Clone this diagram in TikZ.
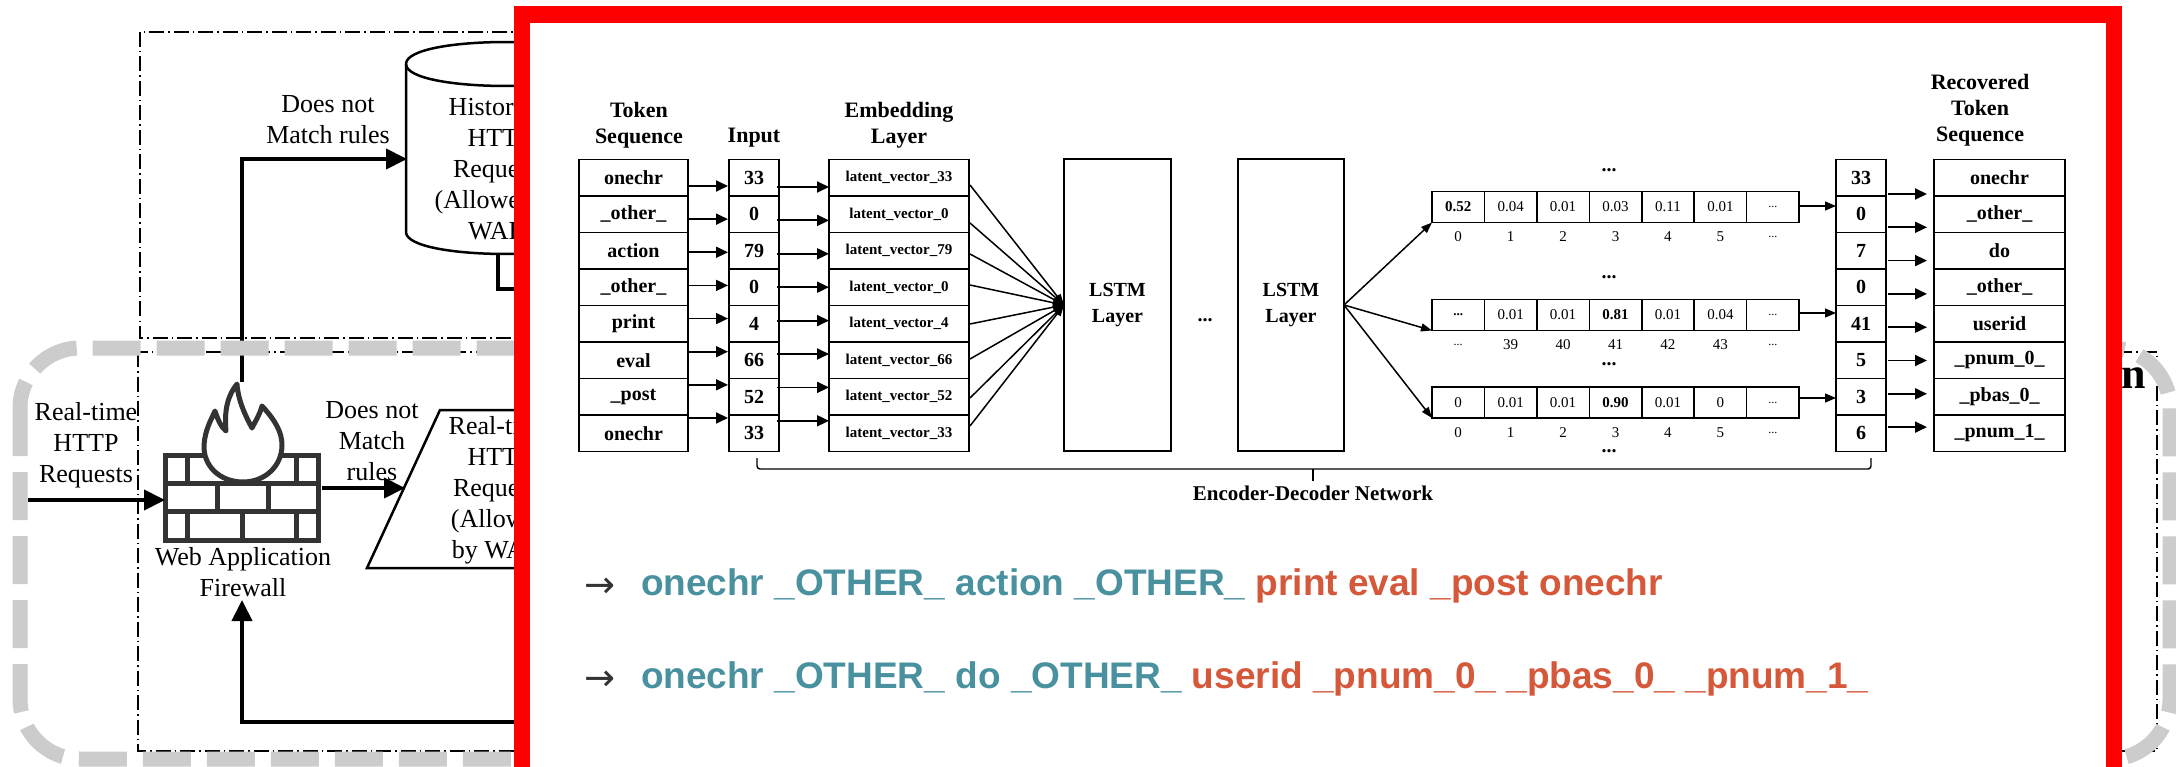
\documentclass[tikz,border=0pt]{standalone}
\usepackage{fontspec}
\setmainfont{Liberation Serif}
\newfontfamily\sansb{Liberation Sans}
\newfontfamily\djv{DejaVu Sans}
\usetikzlibrary{arrows.meta,calc}
\definecolor{tealc}{RGB}{74,145,160}
\definecolor{orangec}{RGB}{213,88,58}
\definecolor{fwgray}{RGB}{51,51,51}
\definecolor{dashgray}{RGB}{204,204,204}
\definecolor{redframe}{RGB}{255,0,0}
\newcommand\smdots{{\fontsize{12}{14}\selectfont.{}.{}.}}
\newcommand\bdots{{\fontsize{13}{14}\selectfont\bfseries.{}.{}.}}
\begin{document}
\begin{tikzpicture}[x=1pt,y=-1pt,
  every node/.style={inner sep=0pt, outer sep=0pt},
  hdr/.style={font=\fontsize{22}{26}\selectfont\bfseries, align=center},
  lbl/.style={font=\fontsize{26}{31}\selectfont, align=center},
  cellb/.style={draw, line width=1.6pt, minimum height=36.5pt, font=\fontsize{20}{24}\selectfont\bfseries},
  pcell/.style={draw, line width=1.6pt, minimum width=52.43pt, minimum height=31pt, font=\fontsize{15}{18}\selectfont},
  plab/.style={font=\fontsize{15}{18}\selectfont},
  bigarr/.style={line width=4pt, -{Triangle[length=21pt,width=20pt]}},
  bigline/.style={line width=4pt},
  sarr/.style={line width=1.8pt, -{Triangle[length=12pt,width=11pt]}},
  farr/.style={line width=1.5pt, -{Triangle[length=11pt,width=8pt]}},
  tarr/.style={line width=1.2pt, -{Triangle[length=11pt,width=9pt]}},
  dashdot/.style={line width=1.3pt, dash pattern=on 15pt off 4pt on 1.5pt off 4pt},
  graydash/.style={dashgray, line width=15pt, dash pattern=on 48pt off 16pt, rounded corners=60pt},
  wall/.style={fwgray, line width=5pt},
  dots/.style={font=\fontsize{20}{24}\selectfont\bfseries},
  botline/.style={anchor=base west, font=\sansb\bfseries\fontsize{37}{44}\selectfont, text=tealc},
  bullet/.style={anchor=base west, font=\djv\fontsize{37}{44}\selectfont, text=fwgray}
]
\useasboundingbox (0,0) rectangle (2176,767);
\fill[white] (0,0) rectangle (2176,767);

% ---------------- background diagram ----------------
\draw[dashdot] (140,32) rectangle (2100,338);
\draw[dashdot] (138,352) rectangle (2157,751);

% cylinder
\draw[line width=2.5pt, fill=white] (406,64) -- (406,232) .. controls (406,261.3) and (604,261.3) .. (604,232) -- (604,64) .. controls (604,34.7) and (406,34.7) .. (406,64) -- cycle;
\draw[line width=2.5pt] (406,64) .. controls (406,93.3) and (604,93.3) .. (604,64);
\node[lbl] (cyltxt) at (500,171) {Historical\\HTTP\\Requests\hspace*{48pt}\\(Allowed by\\WAF)};

% parallelogram
\draw[line width=2.5pt, fill=white] (440,410) -- (700,410) -- (627,568) -- (367,568) -- cycle;
\node[lbl] (partxt) at (500,490) {Real-time\\HTTP\\Requests\\(Allowed\\by WAF)};

% firewall icon
\node (fw) at (241.5,497.5) [minimum width=153pt, minimum height=85pt] {};
\draw[wall, fill=white] (165,455) rectangle (318,540);
\draw[wall] (165,483.3) -- (318,483.3) (165,511.7) -- (318,511.7);
\draw[wall] (187,455) -- (187,483.3) (296,455) -- (296,483.3);
\draw[wall] (217,483.3) -- (217,511.7) (268,483.3) -- (268,511.7);
\draw[wall] (187,511.7) -- (187,540) (242,511.7) -- (242,540) (296,511.7) -- (296,540);
\draw[wall, fill=white, line join=round] (243,482) .. controls (220,482) and (203,466) .. (204,445)
  .. controls (205,430) and (211,420) .. (215,411)
  .. controls (218,420) and (221,427) .. (226,431)
  .. controls (224,410) and (228,395) .. (237,384)
  .. controls (238,400) and (245,415) .. (252,428)
  .. controls (256,420) and (260,414) .. (262,406)
  .. controls (275,420) and (282,432) .. (282,445)
  .. controls (282,466) and (265,482) .. (243,482) -- cycle;

\node[lbl] (rtlbl) at (86,445) {Real-time\\HTTP\\Requests};
\node[lbl] (dn1) at (328,120) {Does not\\Match rules};
\node[lbl] (dn2) at (372,441) {Does not\\Match\\rules};
\node[lbl] (fwlbl) at (243,572) {Web Application\\Firewall};

\coordinate (inS) at (28,500);
\coordinate (fwTop) at (242,382);
\coordinate (cylIn) at (407,159);
\coordinate (parIn) at (405,488);
\coordinate (fbS) at (560,722);
\coordinate (fbE) at (242,600);
\coordinate (cylOut) at (498,254);
\coordinate (cylEnd) at (560,289);
\draw[bigarr] (inS) -- (inS -| fw.west);
\draw[bigarr] (fwTop) |- (cylIn);
\draw[bigarr] (fw.east |- parIn) ++(4,0) -- (parIn);
\draw[bigarr] (fbS) -| (fbE);
\draw[bigline] (cylOut) |- (cylEnd);

\node[anchor=base east, font=\fontsize{44}{50}\selectfont\bfseries] (ttl) at (2146,388) {on};

\draw[graydash] (20,348) rectangle (2170,759);

% ---------------- red frame ----------------
\fill[white] (522,14.5) rectangle (2114,800);
\draw[redframe, line width=16.5pt] (522,800) -- (522,14.5) -- (2114,14.5) -- (2114,800);

% ---------------- network diagram ----------------
\node[hdr] (htok) at (639,125) {Token\\Sequence};
\node[hdr] (hinp) at (754,138) {Input};
\node[hdr] (hemb) at (899,125) {Embedding\\Layer};
\node[hdr] (hrec) at (1980,110) {Recovered\\Token\\Sequence};

\foreach \t/\n/\e [count=\i] in {onechr/33/latent\_vector\_33, \_other\_/0/latent\_vector\_0, action/79/latent\_vector\_79, \_other\_/0/latent\_vector\_0, print/4/latent\_vector\_4, eval/66/latent\_vector\_66, \_post/52/latent\_vector\_52, onechr/33/latent\_vector\_33}{
  \pgfmathsetmacro\yc{159.5+36.5*(\i-0.5)}
  \node[cellb, minimum width=109pt] (tok\i) at (633.5,\yc) {\t};
  \node[cellb, minimum width=50pt] (inp\i) at (754,\yc) {\n};
  \node[cellb, minimum width=140pt, font=\fontsize{15}{18}\selectfont\bfseries] (emb\i) at (899,\yc) {\e};
}
\foreach \n/\w [count=\i] in {33/onechr, 0/\_other\_, 7/do, 0/\_other\_, 41/userid, 5/\_pnum\_0\_, 3/\_pbas\_0\_, 6/\_pnum\_1\_}{
  \pgfmathsetmacro\yc{159.5+36.5*(\i-0.5)}
  \node[cellb, minimum width=50pt] (out\i) at (1861,\yc) {\n};
  \node[cellb, minimum width=131pt] (rec\i) at (1999.5,\yc) {\w};
}
\foreach \i in {1,...,8}{
  \pgfmathsetmacro\yc{159.5+36.5*(\i-0.5)}
  \pgfmathsetmacro\da{186+33.14*(\i-1)-\yc}
  \pgfmathsetmacro\db{187+33.4*(\i-1)-\yc}
  \pgfmathsetmacro\dc{194+33.3*(\i-1)-\yc}
  \draw[sarr] ($(tok\i.east)+(0,\da)$) -- ($(inp\i.west)+(-1,\da)$);
  \draw[sarr] ($(inp\i.east)+(-2,\db)$) -- ($(emb\i.west)+(0,\db)$);
  \draw[sarr] ($(out\i.east)+(2,\dc)$) -- ($(rec\i.west)+(-7,\dc)$);
}

% LSTM layers
\node[draw, line width=1.6pt, minimum width=107pt, minimum height=292pt, font=\fontsize{20}{26}\selectfont\bfseries, align=center] (lstm1) at (1117.5,305) {LSTM\\Layer};
\node[draw, line width=1.6pt, minimum width=106pt, minimum height=292pt, font=\fontsize{20}{26}\selectfont\bfseries, align=center] (lstm2) at (1291,305) {LSTM\\Layer};
\node[dots] (ldots) at (1205,320) {...};

\foreach \i/\d in {1/7.25, 2/8.75, 3/3.25, 4/-2.25, 5/0.25, 6/-1.25, 7/1.25, 8/-7.25}{
  \draw[farr] ($(emb\i.east)+(1,\d)$) -- (lstm1.west);
}

% probability rows
\foreach \v [count=\j] in {\textbf{0.52},0.04,0.01,0.03,0.11,0.01,\smdots}{
  \node[pcell] (pa\j) at ({1432+52.43*(\j-0.5)},207) {\v};
}
\foreach \v [count=\j] in {\bdots,0.01,0.01,\textbf{0.81},0.01,0.04,\smdots}{
  \node[pcell] (pb\j) at ({1432+52.43*(\j-0.5)},315) {\v};
}
\foreach \v [count=\j] in {0,0.01,0.01,\textbf{0.90},0.01,0,\smdots}{
  \node[pcell] (pc\j) at ({1432+52.43*(\j-0.5)},402.5) {\v};
}
\foreach \l [count=\j] in {0,1,2,3,4,5,\smdots}{
  \node[plab] (la\j) at ({1432+52.43*(\j-0.5)},237) {\l};
}
\foreach \l [count=\j] in {\smdots,39,40,41,42,43,\smdots}{
  \node[plab] (lb\j) at ({1432+52.43*(\j-0.5)},345) {\l};
}
\foreach \l [count=\j] in {0,1,2,3,4,5,\smdots}{
  \node[plab] (lc\j) at ({1432+52.43*(\j-0.5)},433) {\l};
}
\node[dots] (d1) at (1609,170) {...};
\node[dots] (d2) at (1609,277) {...};
\node[dots] (d3) at (1609,364) {...};
\node[dots] (d4) at (1609,451) {...};

\draw[farr] (lstm2.east) -- (pa1.south west);
\draw[farr] (lstm2.east) -- (pb1.south west);
\draw[farr] (lstm2.east) -- (pc1.south west);

\draw[tarr] ($(pa7.east)+(0,-1)$) -- ($(pa7.east -| out1.west)+(0,-1)$);
\draw[tarr] ($(pb7.east)+(0,-2)$) -- ($(pb7.east -| out1.west)+(0,-2)$);
\draw[tarr] ($(pc7.east)+(0,-4.5)$) -- ($(pc7.east -| out1.west)+(0,-4.5)$);

% bracket
\coordinate (brL) at (757,458);
\coordinate (brR) at (1871,458);
\coordinate (brM) at (1313,469);
\draw[line width=1.4pt, rounded corners=3pt] (brL) -- ++(0,11) -- ($(brR)+(0,11)$) -- (brR);
\draw[line width=1.4pt] (brM) -- ++(0,12);
\node[font=\fontsize{21}{25}\selectfont\bfseries] (enc) at (1313,493) {Encoder-Decoder Network};

% bottom text
\node[bullet] (b1) at (584,597) {→};
\node[botline] (ln1) at (641,595) {onechr \_OTHER\_ action \_OTHER\_ \textcolor{orangec}{print eval \_post onechr}};
\node[bullet] (b2) at (584,690) {→};
\node[botline] (ln2) at (641,688) {onechr \_OTHER\_ do \_OTHER\_ \textcolor{orangec}{userid \_pnum\_0\_ \_pbas\_0\_ \_pnum\_1\_}};
\end{tikzpicture}
\end{document}
